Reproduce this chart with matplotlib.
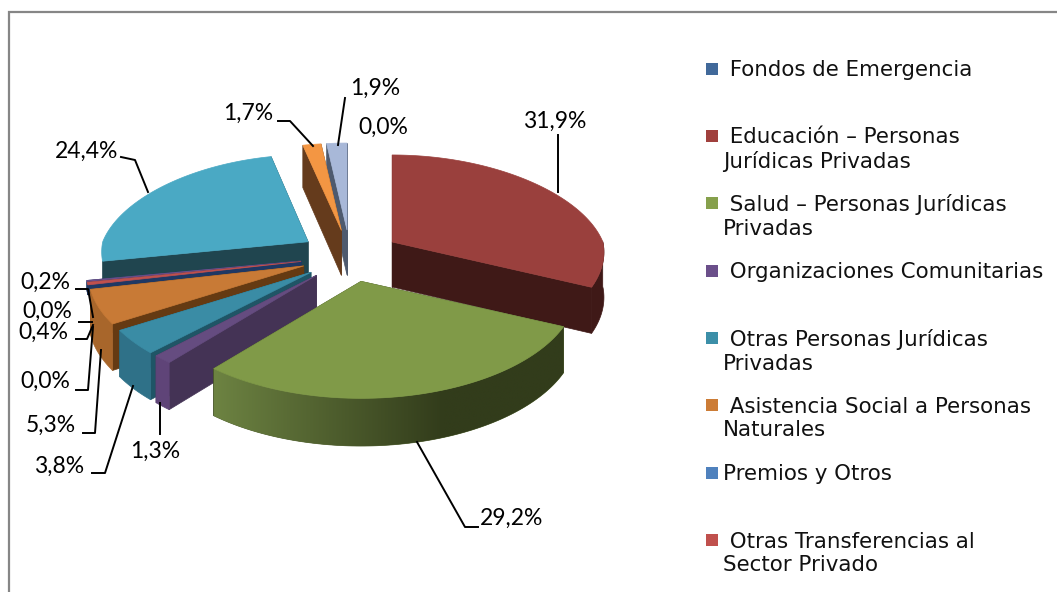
import numpy as np
import matplotlib
matplotlib.use("Agg")
import matplotlib.pyplot as plt
from matplotlib.patches import Polygon, Rectangle
from matplotlib.colors import to_rgb

# ---- data -----------------------------------------------------------
values = [0.0, 31.9, 29.2, 1.3, 3.8, 5.3, 0.0, 0.4, 0.0, 0.2, 24.4, 1.7, 1.9]
value_labels = ["0,0%", "31,9%", "29,2%", "1,3%", "3,8%", "5,3%", "0,0%", "0,4%",
                "0,0%", "0,2%", "24,4%", "1,7%", "1,9%"]
legend_names = [" Fondos de Emergencia",
                " Educación – Personas\nJurídicas Privadas",
                " Salud – Personas Jurídicas\nPrivadas",
                " Organizaciones Comunitarias",
                " Otras Personas Jurídicas\nPrivadas",
                " Asistencia Social a Personas\nNaturales",
                "Premios y Otros",
                " Otras Transferencias al\nSector Privado"]
legend_colors = ["#41699A", "#A0403D", "#86A04C", "#6B4F8A", "#3C8FA8", "#CC7C36", "#4F81BD", "#C0504D"]
legend_y = [69, 149, 216, 271, 351, 418, 473, 553]

top_colors = ["#41699A", "#9A403D", "#809A48", "#654C80", "#3A8CA5", "#C87A36",
              "#4F81BD", "#C0504D", "#2C4D75", "#6B4F8A", "#4AA9C4", "#F39643", "#A8B8D8"]
cut_colors = ["#1E3148", "#3F1917", "#333D1C", "#443355", "#1F5566", "#653A12",
              "#1F3864", "#1F3864", "#1F3864", "#1F3864", "#20454F", "#653B1C", "#4E5A6E"]
arc_dark = ["#1E3148", "#3F1917", "#323C1B", "#5F4478", "#2F7188", "#A8662B",
            "#1F3864", "#1F3864", "#1F3864", "#1F3864", "#20454F", "#653B1C", "#4E5A6E"]
arc_light = ["#1E3148", "#3F1917", "#6D8342", "#5F4478", "#2F7188", "#A8662B",
             "#1F3864", "#1F3864", "#1F3864", "#1F3864", "#20454F", "#653B1C", "#4E5A6E"]
# slice-wise drawing adjustments (radius in x, wall height)
radius_scale = [1, 0.985, 1, 1, 1, 1, 1, 1, 1, 1, 0.96, 1, 1]
wall_scale = [1, 1, 1, 1, 1, 1, 1, 0.22, 1, 0.22, 1, 1, 1]

# label text positions (pixels) and leader polylines
label_pos = [(383, 127), (555, 121), (512, 518), (155, 451), (59, 466), (51, 425), (45, 381),
             (43, 332), (47, 311), (45, 282), (87, 151), (248, 113), (375, 88)]
leaders = [[(558, 135), (558, 192)],
           [(417, 442), (465, 527), (478, 527)],
           [(160, 403), (160, 434)],
           [(133, 386), (105, 473), (92, 473)],
           [(101, 350), (95, 433), (83, 433)],
           [(76, 390), (88, 390), (93, 327)],
           [(76, 339), (87, 339), (93, 325)],
           [(79, 322), (92, 322)],
           [(76, 289), (88, 289), (93, 317)],
           [(121, 157), (135, 160), (148, 192)],
           [(278, 121), (290, 121), (313, 146)],
           [(345, 98), (338, 145)]]

# ---- geometry constants ---------------------------------------------
CX, CY = 350, 256      # centre of the un-exploded pie
EX, EY = 50, 26        # explosion
RX, RY = 214, 102      # radii
KY = 0.147             # perspective in y
DEPTH = 45


def scale_x(v):
    return 1 + (0.1 * v if v > 0 else 0.2 * v)


def plane(theta):
    return np.sin(theta), -np.cos(theta)   # u right, v towards viewer (theta clockwise from top)


def rim(theta, ax0, ay0, rs=1.0):
    u, v = plane(theta)
    return (ax0 + RX * rs * u * scale_x(v), ay0 + RY * v * (1 + KY * v))


def depth(v):
    return DEPTH * (1 + 0.06 * v)


def blend(c1, c2, t):
    a, b = np.array(to_rgb(c1)), np.array(to_rgb(c2))
    return a + (b - a) * t


fig = plt.figure(figsize=(10.57, 5.92), dpi=100, facecolor="white")
ax = fig.add_axes([0, 0, 1, 1])
ax.set_xlim(0, 1057)
ax.set_ylim(592, 0)
ax.axis("off")

# frame
ax.plot([9, 9, 1057], [592, 12, 12], color="#868686", lw=1.6, solid_joinstyle="miter")

total = sum(values)
cum = np.cumsum([0] + values) / total * 2 * np.pi
mid_v = [plane((cum[i] + cum[i + 1]) / 2)[1] for i in range(len(values))]


def face(pts, color, z):
    p = Polygon(pts, closed=True, facecolor=color, edgecolor=color, lw=0.5, zorder=z)
    ax.add_patch(p)
    return p


for rank, i in enumerate(np.argsort(mid_v)):
    if values[i] <= 0:
        continue
    t0, t1 = cum[i], cum[i + 1]
    mid = (t0 + t1) / 2
    um, vm = plane(mid)
    ax0, ay0 = CX + EX * um, CY + EY * vm
    z = 2 + rank
    rs = radius_scale[i]
    ws = wall_scale[i]
    thetas = np.linspace(t0, t1, max(3, int(np.degrees(t1 - t0)) + 2))
    # cut faces, far one first
    cuts = sorted([t0, t1], key=lambda t: plane(t)[1])
    for t in cuts:
        p = rim(t, ax0, ay0, rs)
        dp = depth(plane(t)[1]) * ws
        face([(ax0, ay0), p, (p[0], p[1] + dp), (ax0, ay0 + DEPTH * ws)], cut_colors[i], z)
    # outer wall
    vis = [t for t in thetas
           if (plane(t)[0] >= 0 and plane(t)[1] >= -0.02) or (plane(t)[0] < 0 and plane(t)[1] >= 0.2)]
    if len(vis) >= 2:
        upper = [rim(t, ax0, ay0, rs) for t in vis]
        lower = [(p[0], p[1] + depth(plane(t)[1]) * ws) for p, t in zip(upper, vis)]
        outline = upper + lower[::-1]
        if arc_dark[i] == arc_light[i]:
            face(outline, arc_dark[i], z)
        else:
            # gradient along the wall, clipped by its outline
            xs = np.array([p[0] for p in upper])
            us = np.array([plane(t)[0] for t in vis])
            order = np.argsort(xs)
            x0, x1 = xs.min(), xs.max()
            col_x = np.linspace(x0, x1, 256)
            col_u = np.interp(col_x, xs[order], us[order])
            shade = np.clip((0.35 - col_u) / 0.99, 0, 1)
            grad = np.array([[blend(arc_dark[i], arc_light[i], s) for s in shade]])
            ys = [p[1] for p in outline]
            base = face(outline, blend(arc_dark[i], arc_light[i], 0.5), z)
            im = ax.imshow(grad, extent=(x0, x1, max(ys), min(ys)), aspect="auto",
                           zorder=z, interpolation="bilinear")
            im.set_clip_path(base)
            ax.set_xlim(0, 1057)
            ax.set_ylim(592, 0)
    # top
    face([(ax0, ay0)] + [rim(t, ax0, ay0, rs) for t in thetas], top_colors[i], z)

# leaders and labels
for line in leaders:
    xs, ys = zip(*line)
    ax.plot(xs, ys, color="black", lw=1.4, zorder=40)
for txt, (x, y) in zip(value_labels, label_pos):
    ax.text(x, y, txt, ha="center", va="center", fontsize=16.5, family="Lato", color="#000000", zorder=41)

# legend
for name, col, y in zip(legend_names, legend_colors, legend_y):
    n = name.count("\n")
    my = y - 13 * n
    ax.add_patch(Rectangle((706, my - 6), 12, 12, facecolor=col, edgecolor="none", zorder=41))
    ax.text(723, y + 0.5, name, ha="left", va="center", fontsize=15.4, family="DejaVu Sans",
            color="#111111", linespacing=1.24, zorder=41)

fig.savefig("out.png", dpi=100)
